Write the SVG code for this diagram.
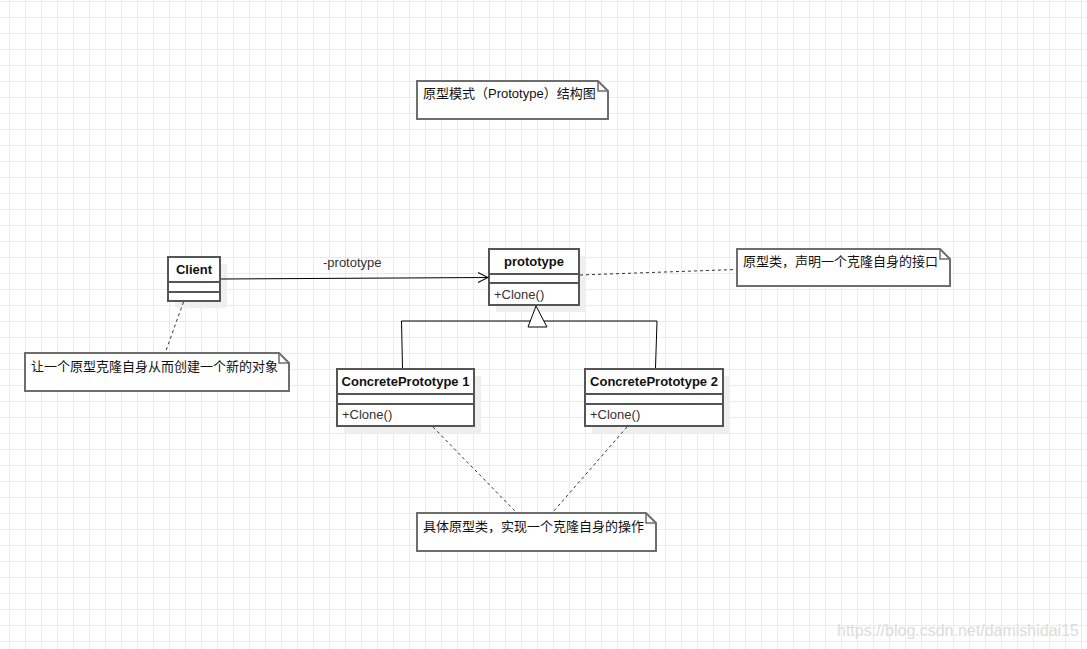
<svg xmlns="http://www.w3.org/2000/svg" width="1087" height="649" viewBox="0 0 1087 649">
  <defs>
    <pattern id="grid" x="9" y="1" width="16" height="16" patternUnits="userSpaceOnUse">
      <path d="M0 0.5H16M0.5 0V16" stroke="#ebebeb" stroke-width="1" fill="none"/>
    </pattern>
    <marker id="open" viewBox="0 0 12 12" refX="11" refY="6" markerWidth="12" markerHeight="12" markerUnits="userSpaceOnUse" orient="auto">
      <path d="M1 1 L11 6 L1 11" fill="none" stroke="#000" stroke-width="1"/>
    </marker>
  </defs>
  <style>
    .shadow { fill: #efefef; }
    .box { fill: #fff; stroke: #555; stroke-width: 2; }
    .div { stroke: #555; stroke-width: 2; }
    .note { fill: #fff; stroke: #6e6e6e; stroke-width: 2; stroke-linejoin: miter; }
    .fold { fill: none; stroke: #6e6e6e; stroke-width: 1.5; }
    .name { font-family: "Liberation Sans", Arial, sans-serif; font-size: 13px; font-weight: bold; fill: #111; text-anchor: middle; }
    .member { font-family: "Liberation Sans", Arial, sans-serif; font-size: 13px; fill: #333; }
    .ntext { font-family: "Liberation Sans", "Noto Sans CJK SC", sans-serif; font-size: 13px; fill: #111; }
    .conn { fill: none; stroke: #000; stroke-width: 1; }
    .dash { fill: none; stroke: #333; stroke-width: 1; stroke-dasharray: 3 3; }
  </style>
  <rect x="0" y="0" width="1087" height="649" fill="#fff"/>
  <rect x="0" y="0" width="1087" height="649" fill="url(#grid)"/>

  <g id="title-note">
    <path class="note" d="M417 81 H598 L608 91 V119 H417 Z"/>
    <path class="fold" d="M598 81 V91 H608"/>
    <text class="ntext" x="423" y="97.5">原型模式（Prototype）结构图</text>
  </g>

  <g id="client">
    <rect class="shadow" x="175" y="264" width="52" height="44"/>
    <rect class="box" x="168" y="257" width="52" height="44"/>
    <line class="div" x1="168" y1="282" x2="220" y2="282"/>
    <line class="div" x1="168" y1="292" x2="220" y2="292"/>
    <text class="name" x="194" y="274">Client</text>
  </g>

  <g id="prototype">
    <rect class="shadow" x="496" y="256" width="90" height="56"/>
    <rect class="box" x="489" y="249" width="90" height="56"/>
    <line class="div" x1="489" y1="274" x2="579" y2="274"/>
    <line class="div" x1="489" y1="283" x2="579" y2="283"/>
    <text class="name" x="534" y="266">prototype</text>
    <text class="member" x="494" y="298.5">+Clone()</text>
  </g>

  <g id="concrete1">
    <rect class="shadow" x="344" y="376" width="137" height="57"/>
    <rect class="box" x="337" y="369" width="137" height="57"/>
    <line class="div" x1="337" y1="394" x2="474" y2="394"/>
    <line class="div" x1="337" y1="404" x2="474" y2="404"/>
    <text class="name" x="405.5" y="386">ConcretePrototype 1</text>
    <text class="member" x="342" y="418.5">+Clone()</text>
  </g>

  <g id="concrete2">
    <rect class="shadow" x="592" y="376" width="138" height="57"/>
    <rect class="box" x="585" y="369" width="138" height="57"/>
    <line class="div" x1="585" y1="394" x2="723" y2="394"/>
    <line class="div" x1="585" y1="404" x2="723" y2="404"/>
    <text class="name" x="654" y="386">ConcretePrototype 2</text>
    <text class="member" x="590" y="418.5">+Clone()</text>
  </g>

  <g id="note-prototype">
    <path class="note" d="M737 249 H940 L950 259 V286 H737 Z"/>
    <path class="fold" d="M940 249 V259 H950"/>
    <text class="ntext" x="743" y="266">原型类，声明一个克隆自身的接口</text>
  </g>

  <g id="note-client">
    <path class="note" d="M25 353 H279 L289 363 V391 H25 Z"/>
    <path class="fold" d="M279 353 V363 H289"/>
    <text class="ntext" x="31" y="370.5">让一个原型克隆自身从而创建一个新的对象</text>
  </g>

  <g id="note-concrete">
    <path class="note" d="M417 513 H646 L656 523 V551 H417 Z"/>
    <path class="fold" d="M646 513 V523 H656"/>
    <text class="ntext" x="423" y="530.5">具体原型类，实现一个克隆自身的操作</text>
  </g>

  <g id="connectors">
    <line class="conn" x1="221" y1="279" x2="488" y2="277.5" marker-end="url(#open)"/>
    <text class="member" x="323" y="267">-prototype</text>
    <path class="conn" d="M402.5 368 L401.5 321 H657 L655.5 368"/>
    <path d="M536 306 L528 327 L547 327 Z" fill="#fff" stroke="#000" stroke-width="1"/>
    <line class="dash" x1="580" y1="275" x2="736" y2="269.5"/>
    <line class="dash" x1="183.5" y1="302" x2="165.5" y2="352"/>
    <line class="dash" x1="433" y1="427" x2="516" y2="512"/>
    <line class="dash" x1="627" y1="427" x2="553" y2="512"/>
  </g>

  <text x="837" y="636" font-family="'Liberation Sans', Arial, sans-serif" font-size="16" fill="#dcdcdc">https://blog.csdn.net/damishidai15</text>
</svg>
